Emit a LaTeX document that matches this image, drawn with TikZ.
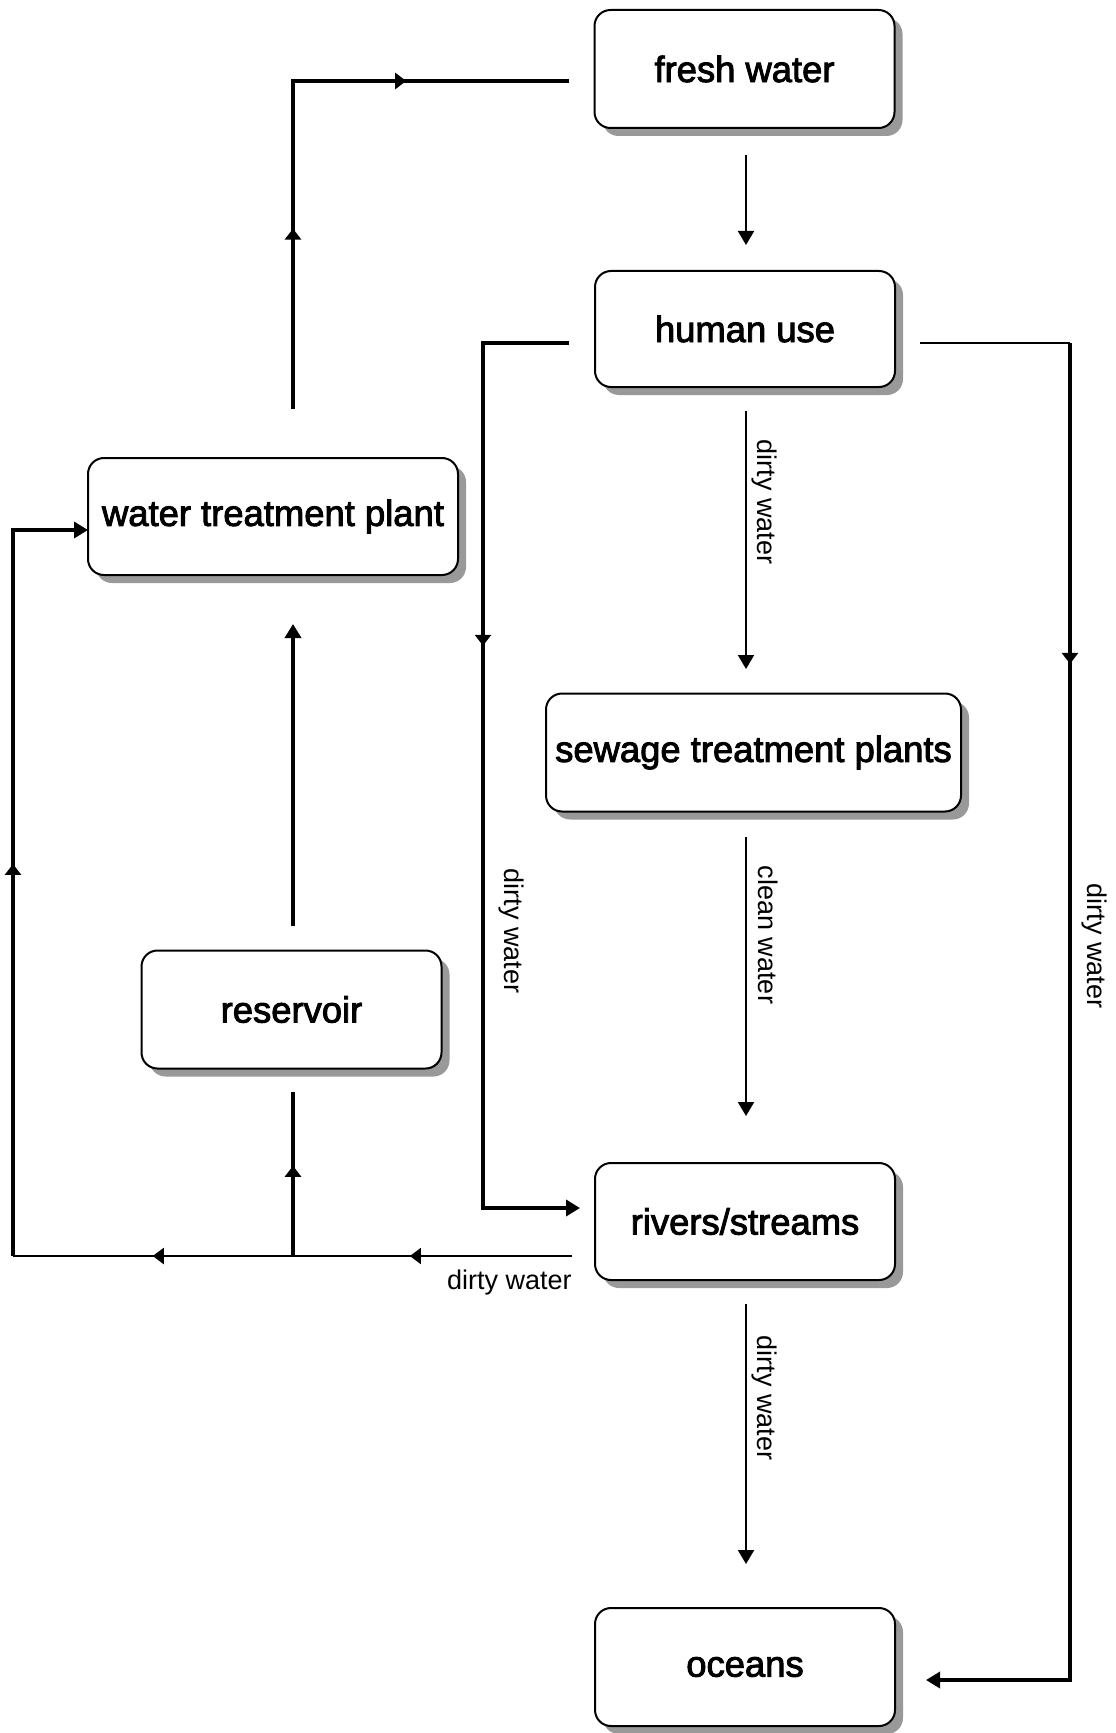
\documentclass[tikz,border=0pt]{standalone}
\usepackage{fontspec}
\setmainfont{Liberation Sans}
\newfontfamily\boxfont{Liberation Sans}[FakeBold=2.5]
\usetikzlibrary{arrows.meta,shadows,decorations.markings,calc}

\tikzset{
  box/.style={draw, line width=1pt, rounded corners=8pt, fill=white,
    minimum width=150pt, minimum height=59pt, inner sep=0pt,
    font=\boxfont\fontsize{18.2}{21}\selectfont,
    drop shadow={shadow xshift=4pt, shadow yshift=-4pt, fill=black!40, opacity=1}},
  thinln/.style={line width=1pt},
  thickln/.style={line width=2pt},
  endarr/.style={-{Triangle[length=7pt,width=8pt]}},
  midarr/.style={postaction={decorate}, decoration={markings,
    mark=at position #1 with {\arrow{Triangle[length=5.5pt,width=8pt]}}}},
  lbl/.style={font=\fontsize{13.5}{15}\selectfont, inner sep=0pt},
}

\begin{document}
\begin{tikzpicture}[x=0.5pt, y=-0.5pt]
\useasboundingbox (0,0) rectangle (1115,1733);

% boxes
\node[box] (fresh) at (744.5,69) {fresh water};
\node[box, minimum height=58pt] (human) at (745,329) {human use};
\node[box, minimum width=185pt, minimum height=58.5pt] (wtp) at (273,516.5) {water treatment plant};
\node[box, minimum width=207.5pt] (sewage) at (753.5,752.5) {sewage treatment plants};
\node[box] (reservoir) at (291.5,1009.5) {reservoir};
\node[box, minimum height=58.5pt] (rivers) at (745,1221.5) {rivers/streams};
\node[box] (oceans) at (745,1667) {oceans};

% coordinates
\coordinate (fwA) at (746,155);
\coordinate (fwB) at (746,245);
\coordinate (wtpUp) at (293,409);
\coordinate (cTL) at (293,81);
\coordinate (fwIn) at (569,81);
\coordinate (huL) at (569,343);
\coordinate (huLc) at (483,343);
\coordinate (rvLc) at (483,1208);
\coordinate (rvIn) at (580,1208);
\coordinate (huR) at (920,343);
\coordinate (huRc) at (1070,343);
\coordinate (ocRc) at (1070,1680);
\coordinate (ocIn) at (926,1680);
\coordinate (huB) at (746,411);
\coordinate (swT) at (746,669);
\coordinate (swB) at (746,837);
\coordinate (rvT) at (746,1116);
\coordinate (rvB) at (746,1304);
\coordinate (ocT) at (746,1564);
\coordinate (rvOut) at (572,1256);
\coordinate (jn) at (293,1256);
\coordinate (cBL) at (13,1256);
\coordinate (cUL) at (13,530);
\coordinate (wtpIn) at (88,530);
\coordinate (rsB) at (293,1092);
\coordinate (rsT) at (293,926);
\coordinate (wtpB) at (293,624);

% fresh water -> human use
\draw[thinln, endarr] (fwA) -- (fwB);

% water treatment plant -> fresh water
\draw[thickln, line join=miter] (wtpUp) -- (cTL) -- (fwIn);
\draw[thickln, midarr=0.55] (wtpUp) -- (cTL);
\draw[thickln, midarr=0.41] (cTL) -- (fwIn);

% human use -> rivers (left)
\draw[thickln, endarr, line join=miter] (huL) -- (huLc) -- (rvLc) -- (rvIn);
\draw[thickln, midarr=0.35] (huLc) -- (rvLc);
\node[lbl, rotate=-90] (lblL) at (511,931) {dirty water};

% human use -> oceans (right)
\draw[thinln] (huR) -- (huRc);
\draw[thickln, endarr, line join=miter] (huRc) -- (ocRc) -- (ocIn);
\draw[thickln, midarr=0.24] (huRc) -- (ocRc);
\node[lbl, rotate=-90] (lblR) at (1094,946) {dirty water};

% human use -> sewage
\draw[thinln, endarr] (huB) -- (swT);
\node[lbl, rotate=-90] (lblHS) at (764,502) {dirty water};

% sewage -> rivers
\draw[thinln, endarr] (swB) -- (rvT);
\node[lbl, rotate=-90] (lblSR) at (768,935) {clean water};

% rivers -> oceans
\draw[thinln, endarr] (rvB) -- (ocT);
\node[lbl, rotate=-90] (lblRO) at (764,1398) {dirty water};

% rivers -> water treatment plant
\draw[thinln] (rvOut) -- (cBL);
\draw[thinln, midarr=0.29] (rvOut) -- (cBL);
\draw[thinln, midarr=0.75] (rvOut) -- (cBL);
\draw[thickln, endarr, line join=miter] (cBL) -- (cUL) -- (wtpIn);
\draw[thickln, midarr=0.54] (cBL) -- (cUL);
\node[lbl, anchor=east] (lblB) at (572,1283) {dirty water};

% branch -> reservoir
\draw[thickln, midarr=0.55] (jn) -- (rsB);

% reservoir -> water treatment plant
\draw[thickln, endarr] (rsT) -- (wtpB);

\end{tikzpicture}
\end{document}
